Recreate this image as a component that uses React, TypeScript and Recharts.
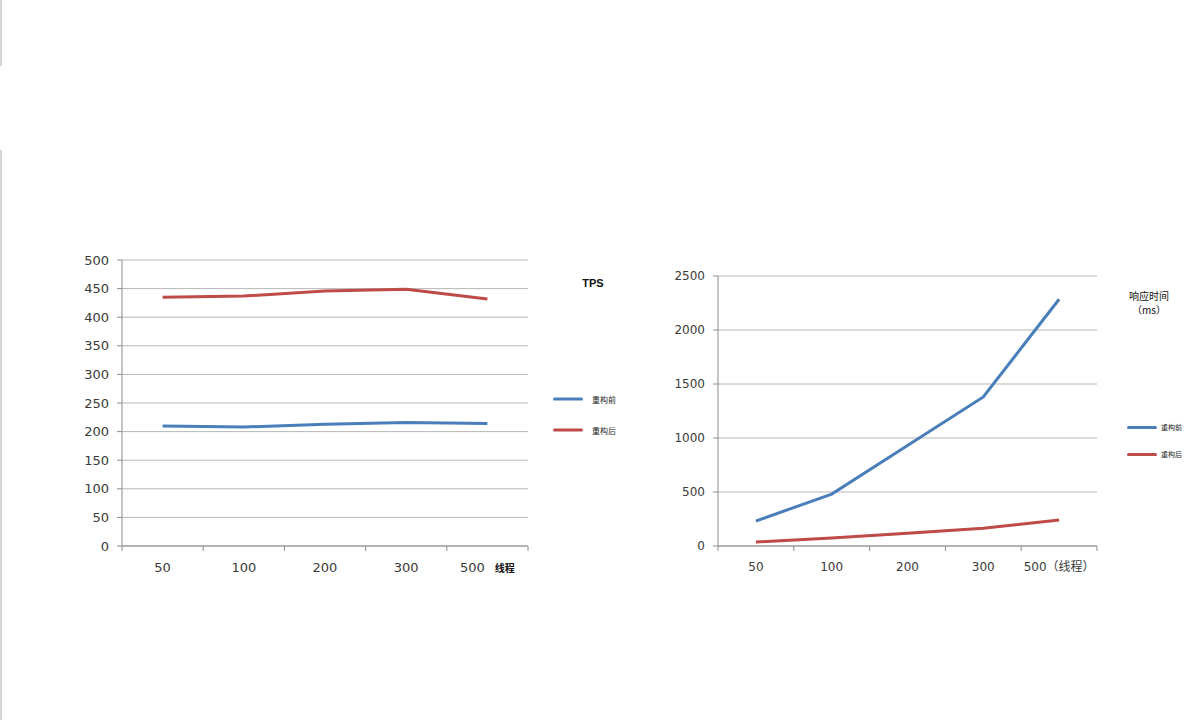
import { CartesianGrid, Line, LineChart, XAxis, YAxis } from "recharts";

const THREADS = ["50", "100", "200", "300", "500"];
const SERIES_NAMES = ["重构前", "重构后"];

const TPS_BEFORE = [210, 208, 213, 216, 214];
const TPS_AFTER = [435, 437, 446, 449, 432];
const TPS_TICKS = [0, 50, 100, 150, 200, 250, 300, 350, 400, 450, 500];

const RT_BEFORE = [231, 481, 930, 1380, 2285];
const RT_AFTER = [37, 74, 118, 165, 240];
const RT_TICKS = [0, 500, 1000, 1500, 2000, 2500];

const BLUE = "#4a7ebb";
const RED = "#be4b48";
const AXIS = "#8c8c8c";
const GRID = "#b8b8b8";
const LABEL = "#3a3a3a";
const FONT = "'DejaVu Sans', 'Noto Sans CJK SC', sans-serif";
const CJK = "'Noto Sans CJK SC', sans-serif";

const tpsData = THREADS.map((t, i) => ({ t, before: TPS_BEFORE[i], after: TPS_AFTER[i] }));
const rtData = THREADS.map((t, i) => ({ t, before: RT_BEFORE[i], after: RT_AFTER[i] }));

type TickProps = {
  x?: number;
  y?: number;
  index?: number;
  payload?: { value?: string };
};

function ThreadTick(
  props: TickProps & { bw: number; fontSize: number; unit: "bold" | "paren" },
) {
  const { x = 0, y = 0, index = 0, payload, bw, fontSize, unit } = props;
  const last = index === THREADS.length - 1;
  const value = String(payload?.value ?? "");
  return (
    <g>
      <line x1={x - bw / 2} x2={x - bw / 2} y1={y} y2={y + 5} stroke={AXIS} />
      {last ? <line x1={x + bw / 2} x2={x + bw / 2} y1={y} y2={y + 5} stroke={AXIS} /> : null}
      <text
        x={x}
        y={y + 21}
        textAnchor="middle"
        dominantBaseline="central"
        fill={LABEL}
        fontSize={fontSize}
        fontFamily={FONT}
      >
        {last && unit === "bold" ? (
          <>
            <tspan>{value}</tspan>
            <tspan dx={10} fontSize={10} fontWeight="bold" fill="#111" fontFamily={CJK}>
              线程
            </tspan>
          </>
        ) : last && unit === "paren" ? (
          `${value}（线程）`
        ) : (
          value
        )}
      </text>
    </g>
  );
}

function LegendBlock({
  left,
  top,
  gap,
  textGap,
  fontSize,
}: {
  left: number;
  top: number;
  gap: number;
  textGap: number;
  fontSize: number;
}) {
  const colors = [BLUE, RED];
  return (
    <div style={{ position: "absolute", left, top }}>
      {SERIES_NAMES.map((name, i) => (
        <div
          key={name}
          style={{
            position: "absolute",
            top: i * gap,
            left: 0,
            display: "flex",
            alignItems: "center",
            whiteSpace: "nowrap",
            transform: "translateY(-50%)",
          }}
        >
          <span
            style={{
              display: "inline-block",
              width: 30,
              height: 3,
              borderRadius: 2,
              background: colors[i],
            }}
          />
          <span
            style={{
              marginLeft: textGap,
              fontSize,
              fontFamily: CJK,
              color: "#222",
            }}
          >
            {name}
          </span>
        </div>
      ))}
    </div>
  );
}

export default function App() {
  return (
    <div
      style={{
        position: "absolute",
        left: 0,
        top: 0,
        width: 1184,
        height: 720,
        background: "#fff",
        overflow: "hidden",
      }}
    >
      <div style={{ position: "absolute", left: 0, top: 0, width: 2, height: 66, background: "#d6d6d6" }} />
      <div style={{ position: "absolute", left: 0, top: 150, width: 2, height: 570, background: "#d6d6d6" }} />

      {/* TPS chart: plot area 122..528 x 260..546 */}
      <div style={{ position: "absolute", left: 60, top: 250 }}>
        <LineChart
          width={480}
          height={340}
          data={tpsData}
          margin={{ top: 10, right: 12, bottom: 4, left: 0 }}
        >
          <CartesianGrid vertical={false} stroke={GRID} />
          <XAxis
            dataKey="t"
            scale="band"
            height={40}
            axisLine={{ stroke: AXIS }}
            tickLine={false}
            tickSize={0}
            tickMargin={0}
            interval={0}
            tick={(p: TickProps) => <ThreadTick {...p} bw={406 / 5} fontSize={13} unit="bold" />}
          />
          <YAxis
            domain={[0, 500]}
            ticks={TPS_TICKS}
            width={62}
            axisLine={{ stroke: AXIS }}
            tickLine={{ stroke: AXIS }}
            tickSize={5}
            tickMargin={8}
            interval={0}
            tick={{ fill: LABEL, fontSize: 13, fontFamily: FONT }}
          />
          <Line
            type="linear"
            dataKey="before"
            name={SERIES_NAMES[0]}
            stroke={BLUE}
            strokeWidth={3}
            dot={false}
            isAnimationActive={false}
          />
          <Line
            type="linear"
            dataKey="after"
            name={SERIES_NAMES[1]}
            stroke={RED}
            strokeWidth={3}
            dot={false}
            isAnimationActive={false}
          />
        </LineChart>
      </div>
      <div
        style={{
          position: "absolute",
          left: 563,
          top: 277,
          width: 60,
          textAlign: "center",
          fontSize: 11,
          fontWeight: "bold",
          fontFamily: "'Liberation Sans', sans-serif",
          color: "#111",
        }}
      >
        TPS
      </div>
      <LegendBlock left={553} top={399} gap={31} textGap={9} fontSize={8} />

      {/* Response time chart: plot area 718..1097 x 276..546 */}
      <div style={{ position: "absolute", left: 640, top: 266 }}>
        <LineChart
          width={470}
          height={330}
          data={rtData}
          margin={{ top: 10, right: 13, bottom: 4, left: 0 }}
        >
          <CartesianGrid vertical={false} stroke={GRID} />
          <XAxis
            dataKey="t"
            scale="band"
            height={46}
            axisLine={{ stroke: AXIS }}
            tickLine={false}
            tickSize={0}
            tickMargin={0}
            interval={0}
            tick={(p: TickProps) => <ThreadTick {...p} bw={379 / 5} fontSize={12} unit="paren" />}
          />
          <YAxis
            domain={[0, 2500]}
            ticks={RT_TICKS}
            width={78}
            axisLine={{ stroke: AXIS }}
            tickLine={{ stroke: AXIS }}
            tickSize={5}
            tickMargin={8}
            interval={0}
            tick={{ fill: LABEL, fontSize: 12, fontFamily: FONT }}
          />
          <Line
            type="linear"
            dataKey="before"
            name={SERIES_NAMES[0]}
            stroke={BLUE}
            strokeWidth={3}
            dot={false}
            isAnimationActive={false}
          />
          <Line
            type="linear"
            dataKey="after"
            name={SERIES_NAMES[1]}
            stroke={RED}
            strokeWidth={3}
            dot={false}
            isAnimationActive={false}
          />
        </LineChart>
      </div>
      <div
        style={{
          position: "absolute",
          left: 1113,
          top: 289,
          width: 72,
          textAlign: "center",
          fontSize: 10,
          lineHeight: "14px",
          fontFamily: CJK,
          color: "#111",
        }}
      >
        <div>响应时间</div>
        <div>（ms）</div>
      </div>
      <LegendBlock left={1127} top={427} gap={27} textGap={4} fontSize={7} />
    </div>
  );
}
